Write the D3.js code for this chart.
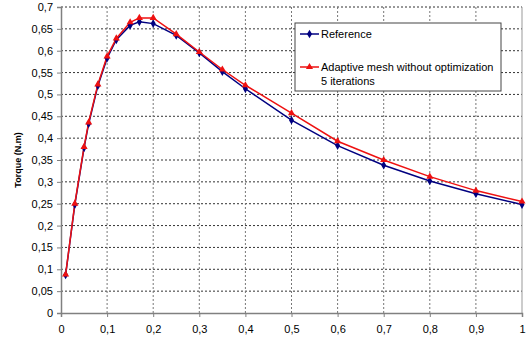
<!DOCTYPE html>
<html>
<head>
<meta charset="utf-8">
<script src="https://cdn.jsdelivr.net/npm/d3@7"></script>
<style>
  body { margin: 0; background: #fff; }
  text { font-family: "Liberation Sans", Arial, sans-serif; }
</style>
</head>
<body>
<div id="chart"></div>
<script>
// x positions (slip) shared by both series
const slip = [0.01, 0.03, 0.05, 0.06, 0.08, 0.1, 0.12, 0.15, 0.17, 0.2, 0.25, 0.3, 0.35, 0.4, 0.5, 0.6, 0.7, 0.8, 0.9, 1.0];
const refTorque = [0.087, 0.248, 0.378, 0.433, 0.52, 0.583, 0.625, 0.658, 0.666, 0.662, 0.635, 0.595, 0.552, 0.513, 0.441, 0.383, 0.338, 0.302, 0.273, 0.248];
const adaptTorque = [0.088, 0.25, 0.38, 0.436, 0.523, 0.587, 0.628, 0.665, 0.675, 0.675, 0.638, 0.597, 0.557, 0.521, 0.457, 0.393, 0.35, 0.312, 0.28, 0.255];
const seriesNames = ["Reference", "Adaptive mesh without optimization", "5 iterations"];
const xTicks = [0, 0.1, 0.2, 0.3, 0.4, 0.5, 0.6, 0.7, 0.8, 0.9, 1];
const yTicks = d3.range(0, 0.7001, 0.05);

const W = 531, H = 340;
const margin = {top: 7, right: 9, bottom: 27, left: 61};
const w = W - margin.left - margin.right;
const h = H - margin.top - margin.bottom;

const fmt = d => d3.format(".2~f")(d).replace(".", ",");

const svg = d3.select("#chart").append("svg")
    .attr("width", W).attr("height", H);

const g = svg.append("g")
    .attr("transform", "translate(" + margin.left + "," + margin.top + ")");

const x = d3.scaleLinear().domain([0, 1]).range([0, w]);
const y = d3.scaleLinear().domain([0, 0.7]).range([h, 0]);

// grid
g.append("g").selectAll("line")
    .data(yTicks.slice(1))
    .enter().append("line")
    .attr("x1", 0).attr("x2", w)
    .attr("y1", d => y(d)).attr("y2", d => y(d))
    .attr("stroke", "#333").attr("stroke-dasharray", "2,2").attr("stroke-width", 1);

g.append("g").selectAll("line")
    .data(xTicks.slice(1, -1))
    .enter().append("line")
    .attr("x1", d => x(d)).attr("x2", d => x(d))
    .attr("y1", 0).attr("y2", h)
    .attr("stroke", "#777").attr("stroke-dasharray", "2,2").attr("stroke-width", 1);

// right border
g.append("line")
    .attr("x1", w).attr("x2", w).attr("y1", 0).attr("y2", h)
    .attr("stroke", "#999");

// axes
let yaxis = g.append("g")
    .call(d3.axisLeft(y).tickValues(yTicks).tickFormat(fmt).tickSize(4).tickPadding(4));
let xaxis = g.append("g")
    .attr("transform", "translate(0," + h + ")")
    .call(d3.axisBottom(x).tickValues(xTicks).tickFormat(fmt).tickSize(4).tickPadding(8));

[yaxis, xaxis].forEach(a => {
    a.select(".domain").attr("stroke", "#808080").attr("stroke-width", 1.5);
    a.selectAll(".tick line").attr("stroke", "#808080");
    a.selectAll("text").attr("font-size", 11).attr("fill", "#000")
        .attr("font-family", "'Liberation Sans', Arial, sans-serif");
});

svg.append("text")
    .attr("transform", "translate(21," + (margin.top + h / 2) + ") rotate(-90)")
    .attr("text-anchor", "middle")
    .attr("font-size", 9).attr("font-weight", "bold")
    .text("Torque (N.m)");

// series
const line = d3.line().x(d => x(d[0])).y(d => y(d[1]));
const refData = slip.map((s, i) => [s, refTorque[i]]);
const adaptData = slip.map((s, i) => [s, adaptTorque[i]]);

const blue = "#000080", red = "#ee1111";
const diamond = d3.symbol().type(d3.symbolDiamond).size(22);
const triangle = d3.symbol().type(d3.symbolTriangle).size(22);

g.append("path").datum(refData).attr("d", line)
    .attr("fill", "none").attr("stroke", blue).attr("stroke-width", 1.5);
g.append("path").datum(adaptData).attr("d", line)
    .attr("fill", "none").attr("stroke", red).attr("stroke-width", 1.5);

g.append("g").selectAll("path").data(refData).enter().append("path")
    .attr("d", diamond)
    .attr("transform", d => "translate(" + x(d[0]) + "," + y(d[1]) + ")")
    .attr("fill", blue);
g.append("g").selectAll("path").data(adaptData).enter().append("path")
    .attr("d", triangle)
    .attr("transform", d => "translate(" + x(d[0]) + "," + y(d[1]) + ")")
    .attr("fill", red);

// legend
const lg = svg.append("g").attr("transform", "translate(295,23)");
lg.append("rect").attr("width", 206).attr("height", 68)
    .attr("fill", "#fff").attr("stroke", "#444").attr("stroke-width", 1);

lg.append("line").attr("x1", 5).attr("x2", 24).attr("y1", 11).attr("y2", 11)
    .attr("stroke", blue).attr("stroke-width", 1.5);
lg.append("path").attr("d", diamond).attr("transform", "translate(14.5,11)").attr("fill", blue);
lg.append("text").attr("x", 26).attr("y", 15).attr("font-size", 11).text(seriesNames[0]);

lg.append("line").attr("x1", 5).attr("x2", 24).attr("y1", 44).attr("y2", 44)
    .attr("stroke", red).attr("stroke-width", 1.5);
lg.append("path").attr("d", triangle).attr("transform", "translate(14.5,44)").attr("fill", red);
lg.append("text").attr("x", 26).attr("y", 48).attr("font-size", 11).text(seriesNames[1]);
lg.append("text").attr("x", 26).attr("y", 62).attr("font-size", 11).text(seriesNames[2]);
</script>
</body>
</html>
